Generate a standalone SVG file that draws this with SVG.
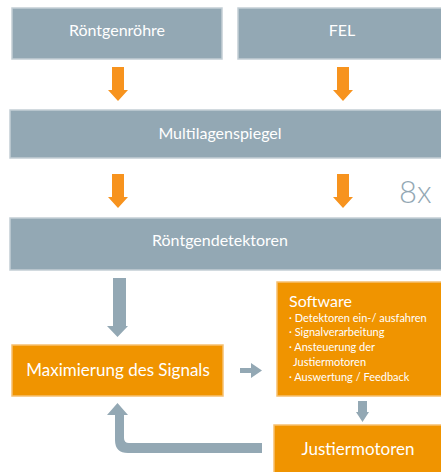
<svg xmlns="http://www.w3.org/2000/svg" width="441" height="472" viewBox="0 0 441 472">
<defs>
<style>
.g{fill:#93a8b4;stroke:#c3ced5;stroke-width:1.5}
.o{fill:#f09400;stroke:#f6c070;stroke-width:1.5}
.t{font-family:Lato,"Open Sans",sans-serif;fill:#ffffff;text-anchor:middle}
.s{font-family:Lato,"Open Sans",sans-serif;fill:#ffffff}
.oa{fill:#f7931e}
.ga{fill:#93a8b4}
</style>
</defs>
<rect width="441" height="472" fill="#ffffff"/>
<g id="roentgenroehre"><rect class="g" x="12" y="8" width="210" height="51"/><text class="t" x="117" y="36" font-size="16">Röntgenröhre</text></g>
<g id="fel"><rect class="g" x="238" y="8" width="210" height="51"/><text class="t" x="342" y="36" font-size="16">FEL</text></g>
<g id="multilagenspiegel"><rect class="g" x="10" y="110" width="440" height="48"/><text class="t" x="220" y="139" font-size="16">Multilagenspiegel</text></g>
<g id="label8x"><text x="399" y="203" font-family="Lato,'Open Sans',sans-serif" font-size="31" fill="#93a8b4" font-weight="300">8x</text></g>
<g id="roentgendetektoren"><rect class="g" x="10" y="218" width="440" height="52"/><text class="t" x="220" y="246" font-size="16">Röntgendetektoren</text></g>
<g id="maximierung"><rect class="o" x="12" y="345" width="211" height="51"/><text class="t" x="118" y="376" font-size="17">Maximierung des Signals</text></g>
<g id="software"><rect class="o" x="277" y="282" width="172" height="114"/>
<text class="s" x="289" y="307" font-size="16">Software</text>
<text class="s" font-size="11"><tspan x="289" y="322">· Detektoren ein-/ ausfahren</tspan><tspan x="289" y="336">· Signalverarbeitung</tspan><tspan x="289" y="351">· Ansteuerung der</tspan><tspan x="293" y="366">Justiermotoren</tspan><tspan x="289" y="381">· Auswertung / Feedback</tspan></text></g>
<g id="justiermotoren"><rect class="o" x="274" y="425" width="175" height="55"/><text class="t" x="358" y="455" font-size="17">Justiermotoren</text></g>
<g id="connectors">
<polygon class="oa" points="112,67 124,67 124,90 128,90 118,101 108,90 112,90"/>
<polygon class="oa" points="337,67 349,67 349,90 353,90 343,101 333,90 337,90"/>
<polygon class="oa" points="112,174 124,174 124,197 128,197 118,208 108,197 112,197"/>
<polygon class="oa" points="337,174 349,174 349,197 353,197 343,208 333,197 337,197"/>
<polygon class="ga" points="113,278 126,278 126,326 128,326 117.5,337 107,326 113,326"/>
<polygon class="ga" points="240,368 251,368 251,363 262,370.5 251,378 251,373 240,373"/>
<polygon class="ga" points="358,401 367,401 367,412 369,412 362.5,422 356,412 358,412"/>
<path class="ga" d="M262,443 L262,453 L128,453 Q115,453 115,440 L115,415 L107,415 L117.5,403 L128,415 L124,415 L124,438 Q124,443 129,443 Z"/>
</g>
</svg>
